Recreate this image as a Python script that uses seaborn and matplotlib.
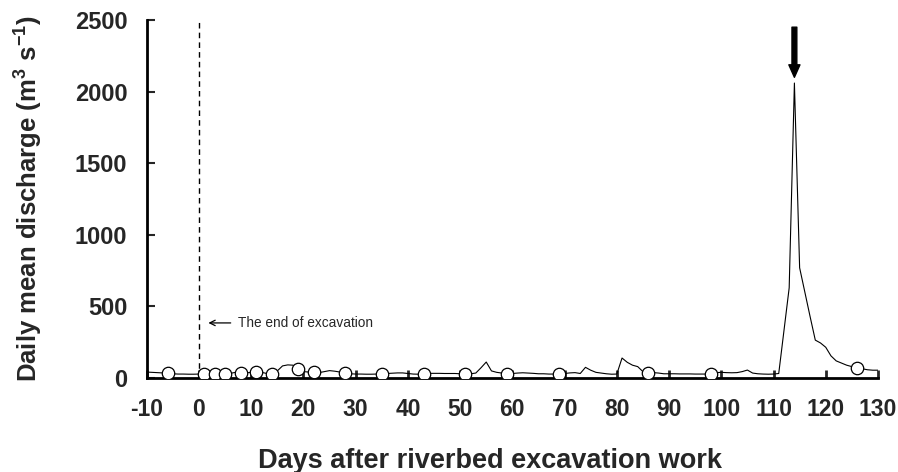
import numpy as np
import pandas as pd
import matplotlib
matplotlib.use('Agg')
import matplotlib.pyplot as plt
import seaborn as sns

# daily mean discharge, day -10 .. 130
days = list(range(-10, 131))
discharge = [
    42, 40, 38, 36, 34, 30, 28, 28, 27, 27,        # -10 .. -1
    28, 30, 32, 30, 28, 30, 33, 40, 38, 36,        # 0 .. 9
    40, 44, 40, 32, 28, 50, 85, 92, 90, 60,        # 10 .. 19
    45, 42, 40, 38, 45, 52, 48, 42, 35, 30,        # 20 .. 29
    28, 28, 27, 27, 28, 30, 32, 34, 36, 36,        # 30 .. 39
    32, 28, 27, 30, 33, 33, 33, 32, 32, 32,        # 40 .. 49
    30, 28, 30, 35, 72, 112, 50, 40, 35, 30,       # 50 .. 59
    32, 35, 37, 35, 33, 30, 30, 28, 28, 28,        # 60 .. 69
    32, 36, 38, 32, 75, 55, 40, 35, 30, 27,        # 70 .. 79
    28, 140, 110, 90, 80, 45, 35, 38, 35, 30,      # 80 .. 89
    30, 30, 29, 29, 29, 28, 28, 28, 30, 38,        # 90 .. 99
    40, 38, 37, 38, 45, 56, 35, 30, 28, 27,        # 100 .. 109
    28, 32, 330, 630, 2060, 770, 600, 430, 265, 245,  # 110 .. 119
    215, 155, 120, 105, 90, 80, 72, 65, 58, 55, 55,   # 120 .. 130
]

# sampling days (open circles)
sample_days = [-6, 1, 3, 5, 8, 11, 14, 19, 22, 28, 35, 43, 51, 59, 69, 86, 98, 126]
sample_q = [34, 30, 30, 30, 38, 44, 28, 60, 40, 35, 30, 30, 28, 30, 28, 35, 30, 72]

xticks = list(range(-10, 131, 10))
yticks = [0, 500, 1000, 1500, 2000, 2500]

sns.set_theme(style='ticks')
plt.rcParams['font.family'] = ['Liberation Sans', 'DejaVu Sans']
plt.rcParams['mathtext.default'] = 'regular'
plt.rcParams['axes.unicode_minus'] = False

fig = plt.figure(figsize=(8.98, 4.72), dpi=100)
ax = fig.add_axes([0.1634, 0.199, 0.8143, 0.7586])

flow = pd.DataFrame({'day': days, 'q': discharge})
samples = pd.DataFrame({'day': sample_days, 'q': sample_q})

sns.lineplot(data=flow, x='day', y='q', color='black', lw=0.8, ax=ax, zorder=2)
sns.scatterplot(data=samples, x='day', y='q', s=80, facecolor='white',
                edgecolor='black', linewidth=0.9, ax=ax, zorder=3)

# end of excavation
ax.axvline(0, color='black', lw=1, ls=(0, (4, 3)), zorder=1)
ax.annotate('The end of excavation', xy=(1.8, 385), xytext=(7.5, 385),
            ha='left', va='center', fontsize=9.8,
            arrowprops=dict(arrowstyle='->', lw=0.9, color='black', shrinkA=3, shrinkB=0))

# flood peak arrow
ax.annotate('', xy=(114, 2100), xytext=(114, 2450),
            arrowprops=dict(width=3.5, headwidth=8, headlength=9, color='black', shrink=0))

ax.set_xlim(-10, 130)
ax.set_ylim(0, 2500)
ax.set_xticks(xticks)
ax.set_yticks(yticks)
ax.tick_params(axis='x', direction='in', length=6, width=2, pad=14.5, labelsize=16.5)
ax.tick_params(axis='y', direction='in', length=6, width=1.5, pad=14, labelsize=17)
for lab in ax.get_xticklabels() + ax.get_yticklabels():
    lab.set_fontweight('bold')

for side in ['top', 'right']:
    ax.spines[side].set_visible(False)
for side in ['left', 'bottom']:
    ax.spines[side].set_linewidth(2)
    ax.spines[side].set_color('black')

ax.set_xlabel('Days after riverbed excavation work', fontsize=19.5, fontweight='bold', labelpad=19)
ax.xaxis.label.set_x(0.47)
ax.set_ylabel('Daily mean discharge (m$^{3}$ s$^{-1}$)', fontsize=18.5, fontweight='bold', labelpad=21)

fig.savefig('out.png', dpi=100)
